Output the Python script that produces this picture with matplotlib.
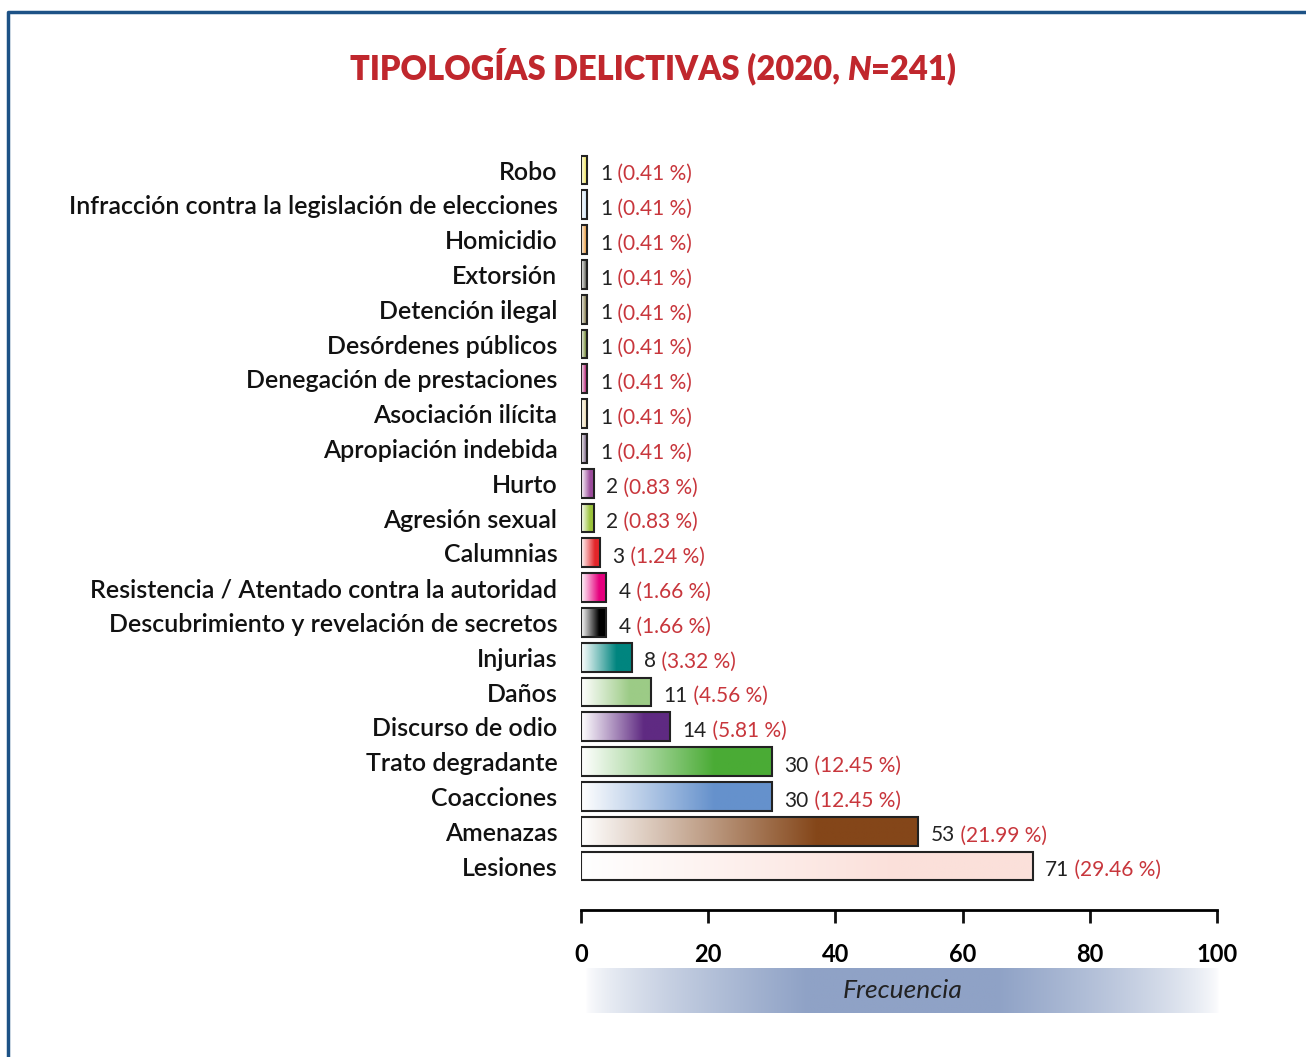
import numpy as np
import matplotlib
matplotlib.use("Agg")
import matplotlib.pyplot as plt
from matplotlib.colors import to_rgb
from matplotlib.lines import Line2D

plt.rcParams['font.family'] = ['Lato', 'DejaVu Sans']

# Data (top to bottom as in the chart)
categories = ["Robo", "Infracción contra la legislación de elecciones", "Homicidio",
              "Extorsión", "Detención ilegal", "Desórdenes públicos",
              "Denegación de prestaciones", "Asociación ilícita", "Apropiación indebida",
              "Hurto", "Agresión sexual", "Calumnias",
              "Resistencia / Atentado contra la autoridad",
              "Descubrimiento y revelación de secretos", "Injurias", "Daños",
              "Discurso de odio", "Trato degradante", "Coacciones", "Amenazas", "Lesiones"]
counts = [1, 1, 1, 1, 1, 1, 1, 1, 1, 2, 2, 3, 4, 4, 8, 11, 14, 30, 30, 53, 71]
percents = [0.41, 0.41, 0.41, 0.41, 0.41, 0.41, 0.41, 0.41, 0.41, 0.83, 0.83, 1.24,
            1.66, 1.66, 3.32, 4.56, 5.81, 12.45, 12.45, 21.99, 29.46]
colors = ["#f2e86a", "#d6e9f8", "#eaa24c", "#6c6e66", "#8a8356", "#7a9040",
          "#b8307e", "#efdfb8", "#86728f", "#9c4c9c", "#9cc43c", "#e3262a",
          "#e6007e", "#000000", "#00857f", "#9ccb86", "#5f2a82", "#4aab35",
          "#6591cc", "#844619", "#fbe0da"]
xticks = [0, 20, 40, 60, 80, 100]

W, H = 1306, 1057
fig = plt.figure(figsize=(W / 100, H / 100), dpi=100)

# frame
fig.add_artist(Line2D([8 / W, 8 / W, 1.0], [0, 1 - 12 / H, 1 - 12 / H],
                      transform=fig.transFigure, color="#1d5286", lw=2.5))

# main axes
top = 152.6
bot = 883.4
ax = fig.add_axes([581 / W, 1 - bot / H, 636 / W, (bot - top) / H])
for s in ["top", "right", "left"]:
    ax.spines[s].set_visible(False)
ax.spines["bottom"].set_position(("outward", 19))
ax.spines["bottom"].set_linewidth(2)
ax.patch.set_alpha(0)

y = np.arange(len(categories))
h = 0.83
bars = ax.barh(y, counts, height=h, facecolor="none", edgecolor="#222222", lw=1.5, zorder=3)

# white -> colour gradient inside each bar
for yi, v, c in zip(y, counts, colors):
    rgb = np.array(to_rgb(c))
    t = np.clip(np.linspace(0, 1, 200) / 0.7, 0, 1)
    grad = (1 - t[:, None]) * np.ones(3) + t[:, None] * rgb
    ax.imshow(grad[None, :, :], extent=(0, v, yi + h / 2, yi - h / 2), aspect="auto",
              interpolation="bilinear", zorder=2)

for yi, v, p in zip(y, counts, percents):
    a1 = ax.annotate(f"{v}", xy=(v, yi), xytext=(9, -3), textcoords="offset points",
                     ha="left", va="center", fontsize=15, color="#222222")
    ax.annotate(f" ({p:.2f} %)", xy=(1, 0.5), xycoords=a1, ha="left", va="center",
                fontsize=15, color="#c8363c")

ax.set_xlim(0, 100)
ax.set_ylim(len(categories) - 0.5, -0.5)
ax.spines["bottom"].set_bounds(0, 100)
ax.set_yticks(y)
ax.set_yticklabels(categories, fontweight="semibold")
ax.tick_params(axis="y", length=0, pad=17, labelsize=18, labelcolor="#111111")
ax.set_xticks(xticks)
ax.set_xticklabels([str(x) for x in xticks], fontweight="bold")
ax.tick_params(axis="x", direction="out", length=9, width=2, pad=15, color="#111111",
               labelsize=17)

# title (N in italics)
t1 = fig.text(350 / W, 1 - 79 / H, "TIPOLOGÍAS DELICTIVAS (2020, ", color="#c0272d",
              fontsize=23.5, fontweight="heavy", ha="left", va="baseline")
t2 = ax.annotate("N", xy=(1, 0), xycoords=t1, color="#c0272d", fontsize=23.5,
                 fontweight="heavy", style="italic", ha="left", va="bottom",
                 annotation_clip=False)
t3 = ax.annotate("=241)", xy=(1, 0), xycoords=t2, color="#c0272d", fontsize=23.5,
                 fontweight="heavy", ha="left", va="bottom", annotation_clip=False)

# xlabel band with gradient
bax = fig.add_axes([585 / W, 1 - 1013 / H, 635 / W, 45 / H])
xs = np.linspace(-1, 1, 400)
t = np.clip((1 - np.abs(xs)) / 0.7, 0, 1) ** 0.7
band_col = np.array(to_rgb("#8fa2c6"))
band = (1 - t[:, None]) * np.ones(3) + t[:, None] * band_col
bax.imshow(band[None, :, :], extent=(0, 1, 0, 1), aspect="auto", interpolation="bilinear")
bax.set_xlim(0, 1)
bax.set_ylim(0, 1)
bax.axis("off")
bax.text(0.5, 0.5, "Frecuencia", ha="center", va="center", fontsize=19,
         style="italic", color="#222222")

fig.savefig("out.png", dpi=100)
